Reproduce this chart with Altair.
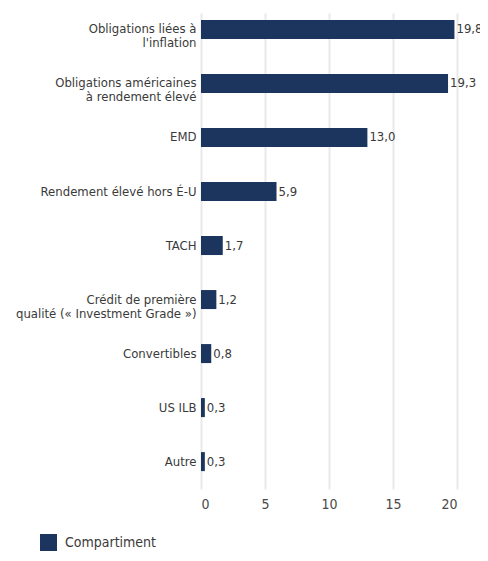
import altair as alt
import pandas as pd

categories = [
    "Obligations liées à|l'inflation",
    "Obligations américaines|à rendement élevé",
    "EMD",
    "Rendement élevé hors É-U",
    "TACH",
    "Crédit de première|qualité (« Investment Grade »)",
    "Convertibles",
    "US ILB",
    "Autre",
]
values = [19.8, 19.3, 13.0, 5.9, 1.7, 1.2, 0.8, 0.3, 0.3]
series_name = "Compartiment"
x_ticks = [0, 5, 10, 15, 20]

df = pd.DataFrame({
    "cat": categories,
    "val": values,
    "label": [f"{v:.1f}".replace(".", ",") for v in values],
    "series": [series_name] * len(values),
})

FONT = "DejaVu Sans Condensed"
NAVY = "#1c355e"

y_enc = alt.Y(
    "cat:N",
    sort=categories,
    title=None,
    scale=alt.Scale(paddingInner=0.648, paddingOuter=0.23, align=0.28),
    axis=alt.Axis(
        labelExpr="split(datum.label, '|')",
        labelFont=FONT,
        labelFontSize=13,
        labelColor="#3a3a3a",
        labelLineHeight=14,
        labelPadding=5,
        ticks=False,
        domain=False,
        grid=False,
        labelLimit=300,
    ),
)

x_enc = alt.X(
    "val:Q",
    title=None,
    scale=alt.Scale(domain=[0, 20], nice=False),
    axis=alt.Axis(
        values=x_ticks,
        labelFont=FONT,
        labelFontSize=14,
        labelColor="#4a4a4a",
        labelPadding=8,
        ticks=False,
        domain=False,
        grid=True,
        gridColor="#e9e9e9",
        gridWidth=2,
    ),
)

bars = alt.Chart(df).mark_bar(clip=False).encode(
    x=x_enc,
    y=y_enc,
    color=alt.Color(
        "series:N",
        scale=alt.Scale(range=[NAVY]),
        legend=alt.Legend(
            title=None,
            orient="none",
            legendX=-161,
            legendY=521,
            symbolType="square",
            symbolSize=289,
            symbolStrokeWidth=0,
            labelFont=FONT,
            labelFontSize=14,
            labelColor="#3a3a3a",
            padding=0,
            labelOffset=8,
        ),
    ),
)

texts = alt.Chart(df).mark_text(
    align="left", baseline="middle", dx=2, font=FONT, fontSize=13, color="#3a3a3a"
).encode(
    x="val:Q",
    y=alt.Y("cat:N", sort=categories),
    text="label:N",
)

chart = alt.layer(bars, texts).properties(
    width=256,
    height=476,
    autosize=alt.AutoSizeParams(type="none"),
    padding={"left": 193, "top": 5, "right": 23, "bottom": 64},
).configure_view(stroke=None)

chart.save("out.html", embed_options={"renderer": "svg", "actions": False})
